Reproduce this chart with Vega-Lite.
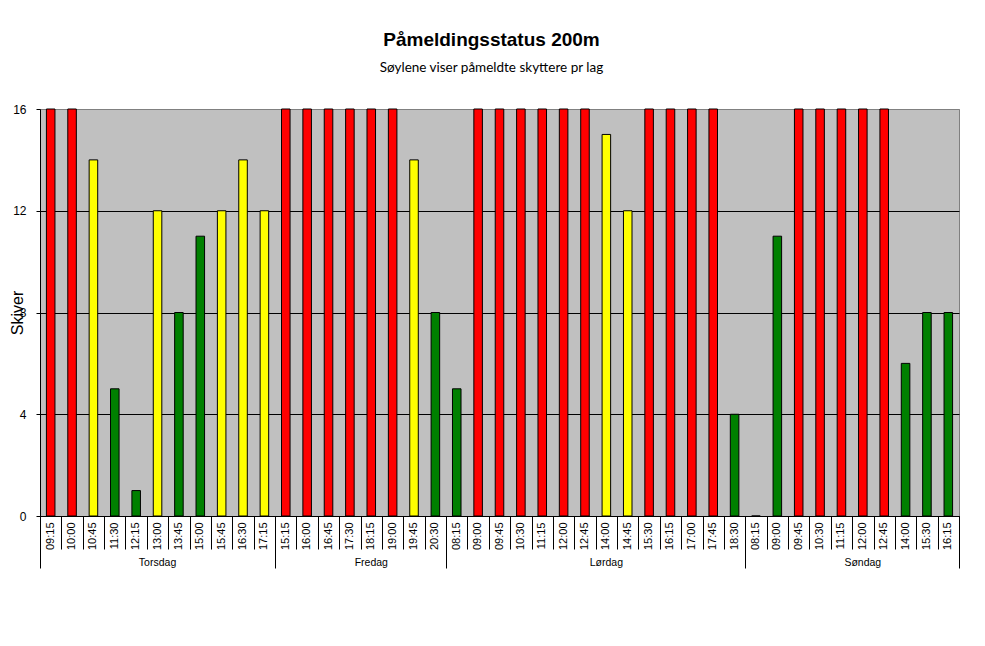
{
  "$schema": "https://vega.github.io/schema/vega-lite/v6.json",
  "description": "Påmeldingsstatus 200m, skyttere pr lag",
  "width": 919,
  "height": 407,
  "autosize": "none",
  "padding": {"left": 40, "top": 109, "right": 26, "bottom": 130},
  "background": "white",
  "title": {
    "text": "Påmeldingsstatus 200m",
    "subtitle": "Søylene viser påmeldte skyttere pr lag",
    "font": "Liberation Sans",
    "fontSize": 19,
    "fontWeight": "bold",
    "color": "black",
    "subtitleFont": "Lato",
    "subtitleFontSize": 13.5,
    "subtitleColor": "black",
    "subtitlePadding": 11,
    "anchor": "middle",
    "frame": "group",
    "offset": 29,
    "dx": -8
  },
  "data": {
    "values": [
      {"dag": "Torsdag", "lag": "Torsdag 09:15", "skiver": 16, "status": "Fullt"},
      {"dag": "Torsdag", "lag": "Torsdag 10:00", "skiver": 16, "status": "Fullt"},
      {"dag": "Torsdag", "lag": "Torsdag 10:45", "skiver": 14, "status": "Nesten fullt"},
      {"dag": "Torsdag", "lag": "Torsdag 11:30", "skiver": 5, "status": "Ledig"},
      {"dag": "Torsdag", "lag": "Torsdag 12:15", "skiver": 1, "status": "Ledig"},
      {"dag": "Torsdag", "lag": "Torsdag 13:00", "skiver": 12, "status": "Nesten fullt"},
      {"dag": "Torsdag", "lag": "Torsdag 13:45", "skiver": 8, "status": "Ledig"},
      {"dag": "Torsdag", "lag": "Torsdag 15:00", "skiver": 11, "status": "Ledig"},
      {"dag": "Torsdag", "lag": "Torsdag 15:45", "skiver": 12, "status": "Nesten fullt"},
      {"dag": "Torsdag", "lag": "Torsdag 16:30", "skiver": 14, "status": "Nesten fullt"},
      {"dag": "Torsdag", "lag": "Torsdag 17:15", "skiver": 12, "status": "Nesten fullt"},
      {"dag": "Fredag", "lag": "Fredag 15:15", "skiver": 16, "status": "Fullt"},
      {"dag": "Fredag", "lag": "Fredag 16:00", "skiver": 16, "status": "Fullt"},
      {"dag": "Fredag", "lag": "Fredag 16:45", "skiver": 16, "status": "Fullt"},
      {"dag": "Fredag", "lag": "Fredag 17:30", "skiver": 16, "status": "Fullt"},
      {"dag": "Fredag", "lag": "Fredag 18:15", "skiver": 16, "status": "Fullt"},
      {"dag": "Fredag", "lag": "Fredag 19:00", "skiver": 16, "status": "Fullt"},
      {"dag": "Fredag", "lag": "Fredag 19:45", "skiver": 14, "status": "Nesten fullt"},
      {"dag": "Fredag", "lag": "Fredag 20:30", "skiver": 8, "status": "Ledig"},
      {"dag": "Lørdag", "lag": "Lørdag 08:15", "skiver": 5, "status": "Ledig"},
      {"dag": "Lørdag", "lag": "Lørdag 09:00", "skiver": 16, "status": "Fullt"},
      {"dag": "Lørdag", "lag": "Lørdag 09:45", "skiver": 16, "status": "Fullt"},
      {"dag": "Lørdag", "lag": "Lørdag 10:30", "skiver": 16, "status": "Fullt"},
      {"dag": "Lørdag", "lag": "Lørdag 11:15", "skiver": 16, "status": "Fullt"},
      {"dag": "Lørdag", "lag": "Lørdag 12:00", "skiver": 16, "status": "Fullt"},
      {"dag": "Lørdag", "lag": "Lørdag 12:45", "skiver": 16, "status": "Fullt"},
      {"dag": "Lørdag", "lag": "Lørdag 14:00", "skiver": 15, "status": "Nesten fullt"},
      {"dag": "Lørdag", "lag": "Lørdag 14:45", "skiver": 12, "status": "Nesten fullt"},
      {"dag": "Lørdag", "lag": "Lørdag 15:30", "skiver": 16, "status": "Fullt"},
      {"dag": "Lørdag", "lag": "Lørdag 16:15", "skiver": 16, "status": "Fullt"},
      {"dag": "Lørdag", "lag": "Lørdag 17:00", "skiver": 16, "status": "Fullt"},
      {"dag": "Lørdag", "lag": "Lørdag 17:45", "skiver": 16, "status": "Fullt"},
      {"dag": "Lørdag", "lag": "Lørdag 18:30", "skiver": 4, "status": "Ledig"},
      {"dag": "Søndag", "lag": "Søndag 08:15", "skiver": 0, "status": "Ledig"},
      {"dag": "Søndag", "lag": "Søndag 09:00", "skiver": 11, "status": "Ledig"},
      {"dag": "Søndag", "lag": "Søndag 09:45", "skiver": 16, "status": "Fullt"},
      {"dag": "Søndag", "lag": "Søndag 10:30", "skiver": 16, "status": "Fullt"},
      {"dag": "Søndag", "lag": "Søndag 11:15", "skiver": 16, "status": "Fullt"},
      {"dag": "Søndag", "lag": "Søndag 12:00", "skiver": 16, "status": "Fullt"},
      {"dag": "Søndag", "lag": "Søndag 12:45", "skiver": 16, "status": "Fullt"},
      {"dag": "Søndag", "lag": "Søndag 14:00", "skiver": 6, "status": "Ledig"},
      {"dag": "Søndag", "lag": "Søndag 15:30", "skiver": 8, "status": "Ledig"},
      {"dag": "Søndag", "lag": "Søndag 16:15", "skiver": 8, "status": "Ledig"}
    ]
  },
  "layer": [
    {
      "description": "bars, time labels and the y axis",
      "mark": {"type": "bar", "stroke": "black", "strokeWidth": 1, "width": {"band": 0.4}},
      "encoding": {
        "x": {
          "field": "lag",
          "type": "nominal",
          "sort": null,
          "scale": {"paddingInner": 0, "paddingOuter": 0},
          "axis": {
            "orient": "bottom",
            "title": null,
            "labelExpr": "split(datum.value, ' ')[1]",
            "labelAngle": 270,
            "labelFont": "Liberation Sans",
            "labelFontSize": 11,
            "labelColor": "black",
            "labelPadding": 6,
            "labelOverlap": false,
            "ticks": false,
            "grid": false,
            "domainColor": "black",
            "domainWidth": 1
          }
        },
        "y": {
          "field": "skiver",
          "type": "quantitative",
          "scale": {"domain": [0, 16], "nice": false},
          "axis": {
            "title": "Skiver",
            "titleFont": "Liberation Sans",
            "titleFontSize": 16,
            "titleFontWeight": "normal",
            "titleColor": "black",
            "titleAngle": 270,
            "titleX": -18,
            "titleY": 203.5,
            "titleBaseline": "alphabetic",
            "titleAlign": "center",
            "values": [0, 4, 8, 12, 16],
            "labelFont": "Liberation Sans",
            "labelFontSize": 12,
            "labelColor": "black",
            "labelPadding": 10,
            "tickSize": 4,
            "tickColor": "black",
            "domainColor": "black",
            "grid": true,
            "gridColor": {"condition": {"test": "datum.value === 16", "value": "#808080"}, "value": "black"},
            "gridOpacity": 1,
            "gridWidth": 1
          }
        },
        "color": {
          "field": "status",
          "type": "nominal",
          "scale": {"domain": ["Fullt", "Nesten fullt", "Ledig"], "range": ["#FF0000", "#FFFF00", "#008000"]},
          "legend": null
        }
      }
    },
    {
      "description": "short separators between the time slots",
      "mark": {"type": "rule", "strokeOpacity": 0},
      "encoding": {
        "x": {
          "field": "lag", "type": "nominal", "sort": null,
          "axis": {"orient": "bottom", "title": null, "labels": false, "domain": false, "grid": false, "tickBand": "extent", "tickSize": 33, "tickColor": "black"}
        }
      }
    },
    {
      "description": "long separators at the start of each day",
      "mark": {"type": "rule", "strokeOpacity": 0},
      "encoding": {
        "x": {
          "field": "lag", "type": "nominal", "sort": null,
          "axis": {"orient": "bottom", "title": null, "labels": false, "domain": false, "grid": false, "bandPosition": 0, "tickSize": 52, "tickColor": "black",
            "values": ["Torsdag 09:15", "Fredag 15:15", "Lørdag 08:15", "Søndag 08:15"]}
        }
      }
    },
    {
      "description": "long separator at the end of the last day",
      "mark": {"type": "rule", "strokeOpacity": 0},
      "encoding": {
        "x": {
          "field": "lag", "type": "nominal", "sort": null,
          "axis": {"orient": "bottom", "title": null, "labels": false, "domain": false, "grid": false, "bandPosition": 1, "tickSize": 52, "tickColor": "black",
            "values": ["Søndag 16:15"]}
        }
      }
    },
    {
      "description": "day names, centred on an even number of slots",
      "mark": {"type": "rule", "strokeOpacity": 0},
      "encoding": {
        "x": {
          "field": "lag", "type": "nominal", "sort": null,
          "axis": {"orient": "bottom", "title": null, "ticks": false, "domain": false, "grid": false, "bandPosition": 0,
            "values": ["Fredag 18:15", "Lørdag 14:00", "Søndag 12:00"],
            "labelExpr": "split(datum.value, ' ')[0]", "labelAngle": 0, "labelFont": "Liberation Sans", "labelFontSize": 10.5,
            "labelColor": "black", "labelPadding": 41, "labelOverlap": false}
        }
      }
    },
    {
      "description": "day name, centred on an odd number of slots",
      "mark": {"type": "rule", "strokeOpacity": 0},
      "encoding": {
        "x": {
          "field": "lag", "type": "nominal", "sort": null,
          "axis": {"orient": "bottom", "title": null, "ticks": false, "domain": false, "grid": false, "bandPosition": 0.5,
            "values": ["Torsdag 13:00"],
            "labelExpr": "split(datum.value, ' ')[0]", "labelAngle": 0, "labelFont": "Liberation Sans", "labelFontSize": 10.5,
            "labelColor": "black", "labelPadding": 41, "labelOverlap": false}
        }
      }
    }
  ],
  "resolve": {"axis": {"x": "independent"}},
  "config": {
    "view": {"fill": "#C0C0C0", "stroke": "#808080", "strokeWidth": 1}
  }
}
